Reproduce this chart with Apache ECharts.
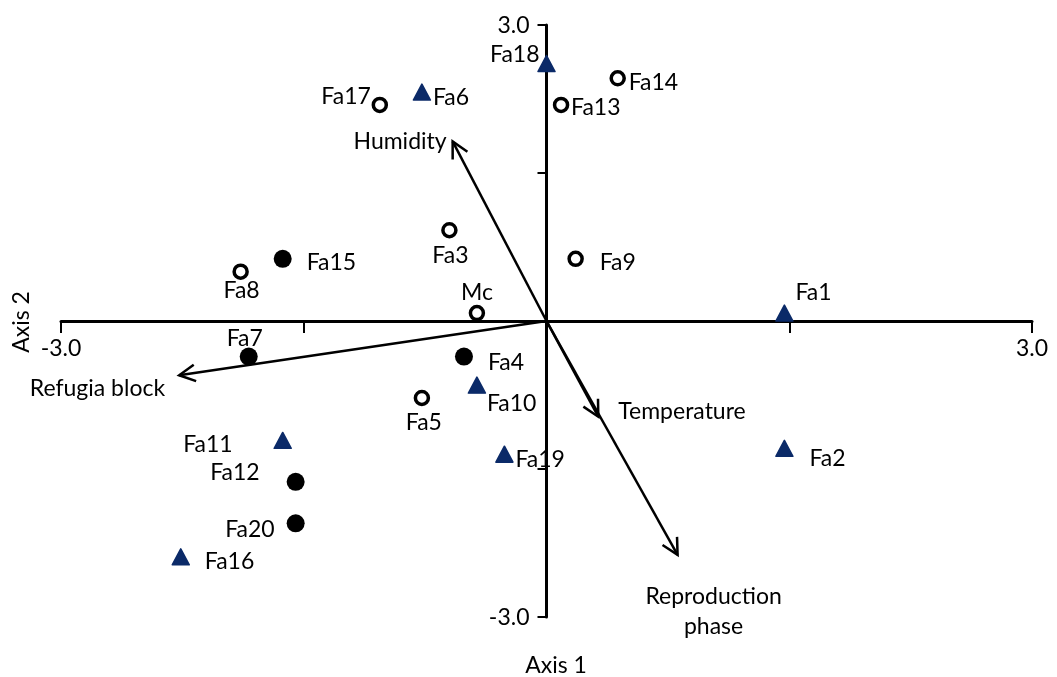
<!DOCTYPE html>
<html><head><meta charset="utf-8">
<script src="https://cdn.jsdelivr.net/npm/echarts@6/dist/echarts.min.js"></script>
<style>html,body{margin:0;padding:0;background:#fff}#c{width:1057px;height:677px}</style>
</head><body><div id="c"></div>
<script>
// ---- data ----
const hollowNames = ['Fa17','Fa13','Fa14','Fa3','Fa8','Fa9','Mc','Fa5'];
const hollowX     = [-1.03, 0.09, 0.44, -0.60, -1.89, 0.18, -0.43, -0.77];
const hollowY     = [ 2.19, 2.19, 2.46,  0.92,  0.50, 0.63,  0.08, -0.78];

const filledNames = ['Fa15','Fa7','Fa4','Fa12','Fa20'];
const filledX     = [-1.63, -1.84, -0.51, -1.55, -1.55];
const filledY     = [ 0.63, -0.36, -0.36, -1.63, -2.05];

const triNames = ['Fa18','Fa6','Fa1','Fa10','Fa19','Fa11','Fa16','Fa2'];
const triX     = [ 0.00, -0.77, 1.47, -0.43, -0.26, -1.63, -2.26,  1.47];
const triY     = [ 2.61,  2.32, 0.08, -0.65, -1.35, -1.21, -2.39, -1.29];

const vectorNames = ['Humidity','Refugia block','Temperature','Reproduction\nphase'];
const vectorX     = [-0.58, -2.27, 0.32, 0.81];
const vectorY     = [ 1.82, -0.55, -0.97, -2.37];

const axisMin = -3, axisMax = 3, axisStep = 1.5;
const xTickLabels = [-3, 3];   // labelled ticks on Axis 1
const yTickLabels = [3, -3];   // labelled ticks on Axis 2
const axisTitleX = 'Axis 1', axisTitleY = 'Axis 2';

// ---- styles (label placement in pixels) ----
const FONT = 'Lato';
const FS = 23;
const labelStyle = {
  Fa18:['right',-7,-9], Fa17:['right',-9,-8], Fa6:['left',11,5], Fa14:['left',11,4],
  Fa13:['left',10,3], Fa3:['center',1,25], Fa8:['center',1,19], Fa15:['left',24,4],
  Fa9:['left',24,4], Mc:['center',0,-21], Fa1:['left',11,-21], Fa7:['center',-4,-18],
  Fa4:['left',24,6], Fa10:['left',10,18], Fa5:['center',2,25], Fa19:['left',11,5],
  Fa2:['left',25,10], Fa11:['right',-50,4], Fa12:['right',-36,-9], Fa20:['right',-21,6],
  Fa16:['left',24,5]
};
const vecLabelStyle = [['right',-6,0],['right',-14,13],['left',20,-5],['center',36,57]];

function mk(names, xs, ys){
  return names.map((n,i)=>{
    const s = labelStyle[n];
    return {name:n, value:[xs[i], ys[i]], label:{align:s[0], offset:[s[1], s[2]]}};
  });
}
const baseLabel = {show:true, position:'inside', formatter:'{b}', color:'#000',
  fontFamily:FONT, fontSize:FS, verticalAlign:'middle'};

const chart = echarts.init(document.getElementById('c'));
function axisCommon(tickLen){
  return {
    type:'value', min:axisMin, max:axisMax, interval:axisStep,
    axisLine:{onZero:true, lineStyle:{color:'#000', width:3}},
    axisTick:{show:true, length:tickLen, lineStyle:{color:'#000', width:2}},
    axisLabel:{show:false},
    splitLine:{show:false}
  };
}
const tickLabelData = xTickLabels.map(v=>[v,0,0]).concat(yTickLabels.map(v=>[0,v,1]));

chart.setOption({
  animation:false,
  backgroundColor:'#fff',
  grid:{left:61, right:25, top:25, bottom:60},
  xAxis:axisCommon(12), yAxis:axisCommon(9),
  graphic:[
    {type:'text', x:556, y:666, style:{text:axisTitleX, font:FS+'px '+FONT, fill:'#000', align:'center', verticalAlign:'middle'}},
    {type:'text', x:22, y:322, rotation:Math.PI/2, style:{text:axisTitleY, font:FS+'px '+FONT, fill:'#000', align:'center', verticalAlign:'middle'}}
  ],
  series:[
    {type:'custom', z:3, silent:true, data:tickLabelData,
     renderItem:function(params, api){
       const isY = api.value(2) === 1;
       const v = isY ? api.value(1) : api.value(0);
       const p = api.coord([api.value(0), api.value(1)]);
       return {type:'text', x: isY ? p[0]-17 : p[0], y: isY ? p[1]+1 : p[1]+28,
         style:{text:v.toFixed(1), font:FS+'px '+FONT, fill:'#000',
           align: isY ? 'right' : 'center', verticalAlign:'middle'}};
     }},
    {type:'custom', z:3, data:vectorX.map((x,i)=>[x, vectorY[i], i]),
     renderItem:function(params, api){
       const o = api.coord([0,0]);
       const t = api.coord([api.value(0), api.value(1)]);
       const i = api.value(2);
       const a = Math.atan2(o[1]-t[1], o[0]-t[0]);
       const L = 18, sp = 0.48;
       const p1 = [t[0]+L*Math.cos(a-sp), t[1]+L*Math.sin(a-sp)];
       const p2 = [t[0]+L*Math.cos(a+sp), t[1]+L*Math.sin(a+sp)];
       const s = vecLabelStyle[i];
       return {type:'group', children:[
         {type:'line', shape:{x1:o[0],y1:o[1],x2:t[0],y2:t[1]}, style:{stroke:'#000', lineWidth:2.5}},
         {type:'polyline', shape:{points:[p1,t,p2]}, style:{stroke:'#000', lineWidth:2.5, fill:null}},
         {type:'text', x:t[0]+s[1], y:t[1]+s[2], style:{text:vectorNames[i], font:FS+'px '+FONT, fill:'#000',
           align:s[0], verticalAlign:'middle', lineHeight:30}}
       ]};
     }},
    {type:'scatter', z:4, symbol:'circle', symbolSize:13,
     itemStyle:{color:'#fff', borderColor:'#000', borderWidth:3.5, opacity:1},
     label:baseLabel, data:mk(hollowNames, hollowX, hollowY)},
    {type:'scatter', z:4, symbol:'circle', symbolSize:18,
     itemStyle:{color:'#000', opacity:1},
     label:baseLabel, data:mk(filledNames, filledX, filledY)},
    {type:'scatter', z:4, symbol:'triangle', symbolSize:[17,16],
     itemStyle:{color:'#0b2a68', borderColor:'#0b2a68', borderWidth:1.5, borderJoin:'round', opacity:1},
     label:baseLabel, data:mk(triNames, triX, triY)}
  ]
});
</script></body></html>
